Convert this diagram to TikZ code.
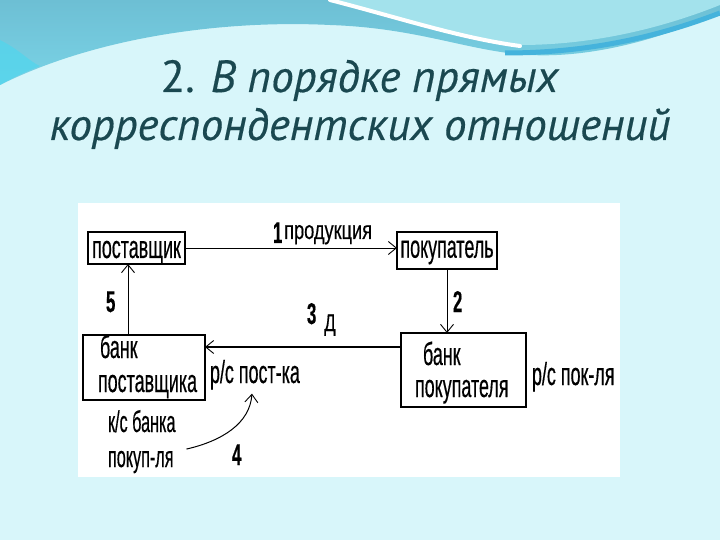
\documentclass[tikz,border=0pt]{standalone}
\usepackage{fontspec}
\setmainfont{Liberation Sans}
\newfontfamily\df[FakeStretch=0.56,FakeBold=0.4]{Liberation Sans}
\newfontfamily\dfn[FakeStretch=0.54,FakeBold=0.4]{Liberation Sans}
\newfontfamily\dfp[FakeStretch=0.7,FakeBold=0.4]{Liberation Sans}
\newfontfamily\tf[FakeBold=0.3]{PT Sans}
\usetikzlibrary{arrows.meta,calc}
\definecolor{bgc}{HTML}{D8F6FA}
\definecolor{wavetop}{HTML}{6DBFD4}
\definecolor{wavebot}{HTML}{7AD3E6}
\definecolor{waveedge}{HTML}{4FD6EE}
\definecolor{wavelight}{HTML}{A3E2EC}
\definecolor{waveband}{HTML}{45B3DC}
\definecolor{titlec}{HTML}{1A4850}
\tikzset{
  boxnode/.style={draw=black, line width=1.3pt, inner sep=0pt, outer sep=0pt},
  boxtext/.style={font=\df\fontsize{32}{32}\selectfont},
  txt/.style={inner sep=0pt, outer sep=0pt, font=\df\fontsize{32}{32}\selectfont},
  ntxt/.style={inner sep=0pt, outer sep=0pt, font=\dfn\fontsize{30}{30}\selectfont},
  numtxt/.style={inner sep=0pt, outer sep=0pt, font=\df\bfseries\fontsize{30}{30}\selectfont},
  arr/.style={draw=black, line width=1pt, -{Straight Barb[length=8pt,width=13pt,line width=0.9pt]}},
  titletxt/.style={inner sep=0pt, text=titlec, font=\tf\fontsize{45}{45}\selectfont}
}
\begin{document}
\begin{tikzpicture}[x=1pt,y=-1pt]
\useasboundingbox (0,0) rectangle (720,540);
% background
\fill[bgc] (0,0) rectangle (720,540);
% top wave
\shade[top color=wavetop, bottom color=wavebot] (0,0) -- (720,0) -- (720,12)
  .. controls (660,40) and (590,58) .. (530,55)
  .. controls (470,52) and (420,28) .. (330,25)
  .. controls (230,20) and (100,35) .. (0,85) -- cycle;
\fill[waveedge, opacity=0.7] (0,40) .. controls (20,50) and (30,62) .. (40,66)
  .. controls (25,72) and (12,78) .. (0,85) -- cycle;
\fill[wavelight] (330,0) .. controls (400,18) and (460,38) .. (520,45)
  .. controls (600,45) and (670,25) .. (720,5) -- (720,0) -- cycle;
\draw[white, line width=4pt, line cap=round] (330,0) .. controls (400,18) and (460,38) .. (520,46);
\draw[waveband, line width=5pt] (505,53) .. controls (600,53) and (670,32) .. (720,13);
% title
\node[titletxt, anchor=base] (t1) at (360,92) {2. \textit{В порядке прямых}};
\node[titletxt, anchor=base] (t2) at (360,140) {\textit{корреспондентских отношений}};
% panel
\fill[white] (78,203) rectangle (620,477);
% boxes
\node[boxnode, boxtext, minimum width=97pt, minimum height=32pt, text height=20pt, text depth=0pt] (ps) at (136.5,248) {поставщик};
\node[boxnode, boxtext, minimum width=100pt, minimum height=37pt, text height=14.4pt, text depth=0pt] (pk) at (447,250.5) {покупатель};
\node[boxnode, minimum width=122pt, minimum height=65pt] (bp) at (144,367.5) {};
\node[boxnode, minimum width=125pt, minimum height=74pt] (bk) at (463.5,370) {};
% box texts
\node[txt, anchor=base west] (bp1) at (100,358) {банк};
\node[txt, anchor=base west] (bp2) at (98,392) {поставщика};
\node[txt, anchor=base west] (bk1) at (423,365) {банк};
\node[txt, anchor=base west] (bk2) at (415,397) {покупателя};
% account labels
\node[txt, anchor=base west] (rp) at (210,383) {р/с пост-ка};
\node[txt, anchor=base west] (rk) at (532,385) {р/с пок-ля};
\node[ntxt, anchor=base west] (kb1) at (108,432) {к/с банка};
\node[ntxt, anchor=base west] (kb2) at (108,467) {покуп-ля};
% numbers
\node[numtxt, anchor=base west] (n1) at (273,243) {1};
\node[inner sep=0pt, anchor=base west, font=\dfp\fontsize{26}{26}\selectfont] (l1) at (284,239) {продукция};
\node[numtxt, anchor=base west] (n2) at (453,312) {2};
\node[numtxt, anchor=base west] (n3) at (307,324) {3};
\node[inner sep=0pt, anchor=base west, font=\dfp\fontsize{24}{24}\selectfont] (l3) at (324,331) {Д};
\node[numtxt, anchor=base west] (n5) at (106,312) {5};
\node[numtxt, anchor=base west] (n4) at (232,465) {4};
% connectors
\draw[arr] (ps.east) -- (ps.east -| pk.west);
\draw[arr] (pk.south) -- (pk.south |- bk.north);
\draw[arr, line width=1.6pt] ([yshift=-14pt]bk.north west) -- ([yshift=-14pt]bk.north west -| bp.east);
\draw[arr] ([xshift=45pt]bp.north west) -- ([xshift=45pt]bp.north west |- ps.south);
\draw[arr] ([xshift=13pt,yshift=13pt]kb2.east) .. controls +(35,-8) and +(-2,30) .. ([xshift=-3pt,yshift=-4pt]rp.south);
\end{tikzpicture}
\end{document}
